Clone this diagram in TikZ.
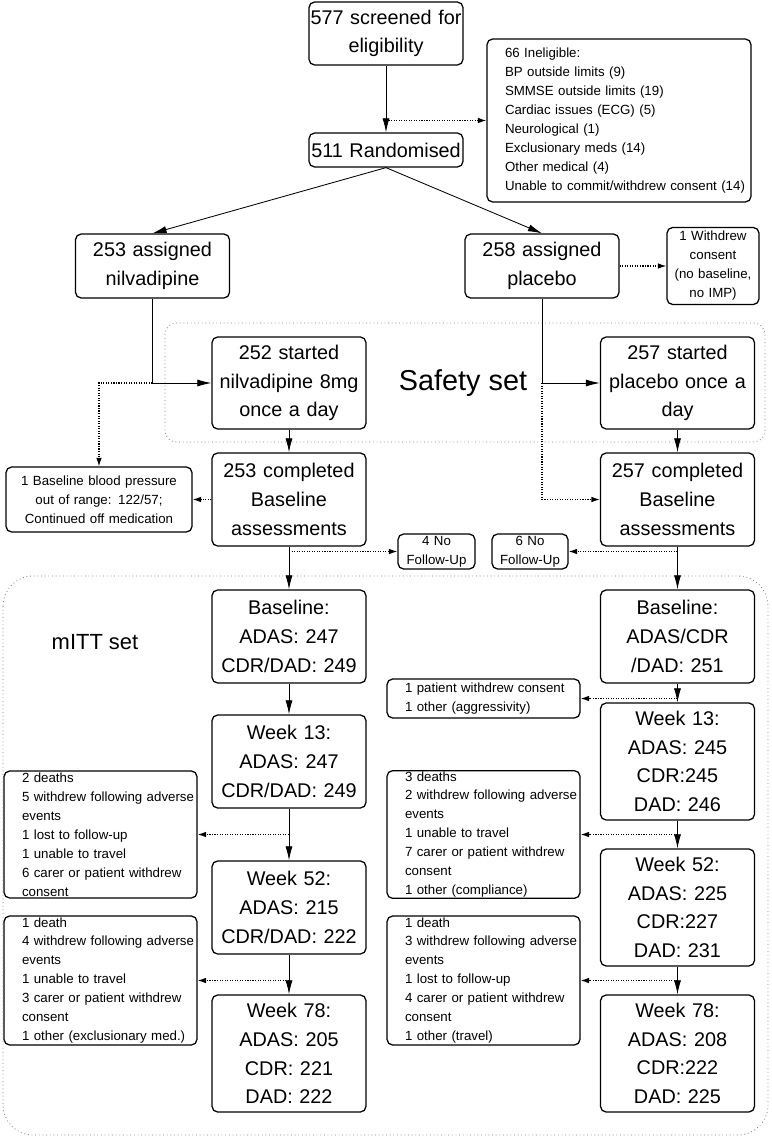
\documentclass[tikz,border=0pt]{standalone}
\usepackage{fontspec}
\setmainfont{Liberation Sans}
\usetikzlibrary{shapes,arrows.meta,positioning,calc}

\begin{document}
\begin{tikzpicture}[node distance=3cm, >={Latex[length=10pt,width=5pt]}]
    \tikzstyle{stage} = [rectangle, draw, line width=0.9pt, rounded corners=4pt, text width=3.85cm, inner xsep=0pt, align=center, font=\fontsize{14.1pt}{20.4pt}\selectfont]
    \tikzstyle{note} = [rectangle, draw, line width=0.9pt, rounded corners=4pt, inner xsep=0pt, inner ysep=0.5pt, align=center, font=\fontsize{9.45pt}{13.5pt}\selectfont]
    \tikzstyle{list} = [note, align=left, execute at begin node={\leftskip=0.45cm}]
    \tikzstyle{flow} = [line width=0.6pt, ->]
    \tikzstyle{dropout} = [densely dotted, line width=0.8pt, -{Latex[length=6pt,width=4pt]}]
    \tikzstyle{setbox} = [dotted, gray, line width=0.6pt]
    \useasboundingbox (0,0) rectangle (19.275,-28.4);

    % Screening
    \node[stage, minimum height=1.575cm] (screen) at (9.65,-0.8375) {577 screened for\\eligibility};
    \node[stage, below of=screen, yshift=0.0875cm, minimum height=0.85cm] (rand) {511 Randomised};
    \node[list, right of=screen, xshift=2.825cm, yshift=-2.175cm, text width=6.6cm, minimum height=4.075cm] (inelig) {66 Ineligible:\\BP outside limits (9)\\SMMSE outside limits (19)\\Cardiac issues (ECG) (5)\\Neurological (1)\\Exclusionary meds (14)\\Other medical (4)\\Unable to commit/withdrew consent (14)};

    % Allocation
    \node[stage, below of=rand, xshift=-5.8375cm, yshift=0.1cm, minimum height=1.6cm] (nil) {253 assigned\\nilvadipine};
    \node[stage, below of=rand, xshift=3.9cm, yshift=0.1cm, minimum height=1.6cm] (plac) {258 assigned\\placebo};
    \node[note, right of=plac, xshift=1.275cm, text width=2.3cm, minimum height=1.925cm] (wdraw) {1 Withdrew\\consent\\(no baseline,\\no IMP)};

    % Safety set
    \node[stage, below of=nil, xshift=3.4125cm, yshift=0.075cm, minimum height=2.3cm] (startnil) {252 started\\nilvadipine 8mg\\once a day};
    \node[stage, below of=plac, xshift=3.3875cm, yshift=0.075cm, minimum height=2.3cm] (startplac) {257 started\\placebo once a\\day};
    \node[font=\fontsize{20.5pt}{24pt}\selectfont, right of=startnil, xshift=1.35cm] (safety) {Safety set};

    % Baseline
    \node[stage, below of=startnil, yshift=0.0875cm, minimum height=2.325cm] (basenil) {253 completed\\Baseline\\assessments};
    \node[stage, below of=startplac, yshift=0.0875cm, minimum height=2.325cm] (baseplac) {257 completed\\Baseline\\assessments};
    \node[note, left of=basenil, xshift=-1.75cm, text width=4.65cm, minimum height=1.625cm] (bp) {1 Baseline blood pressure\\out of range: 122/57;\\Continued off medication};
    \node[note, below of=basenil, xshift=3.6875cm, yshift=1.7cm, text width=1.925cm, minimum height=0.875cm] (nofunil) {4 No\\Follow-Up};
    \node[note, below of=baseplac, xshift=-3.6875cm, yshift=1.7cm, text width=1.9cm, minimum height=0.875cm] (nofuplac) {6 No\\Follow-Up};

    % mITT set
    \node[stage, below of=basenil, yshift=-0.425cm, minimum height=2.325cm] (blnil) {Baseline:\\ADAS: 247\\CDR/DAD: 249};
    \node[stage, below of=baseplac, yshift=-0.425cm, minimum height=2.325cm] (blplac) {Baseline:\\ADAS/CDR\\/DAD: 251};
    \node[font=\fontsize{15.6pt}{18pt}\selectfont, left of=blnil, xshift=-1.85cm, yshift=-0.1375cm] (mitt) {mITT set};
    \node[stage, below of=blnil, yshift=-0.125cm, minimum height=2.325cm] (wknil13) {Week 13:\\ADAS: 247\\CDR/DAD: 249};
    \node[stage, below of=blplac, yshift=-0.125cm, minimum height=2.925cm] (wkplac13) {Week 13:\\ADAS: 245\\CDR:245\\DAD: 246};
    \node[stage, below of=wknil13, yshift=-0.65cm, minimum height=2.325cm] (wknil52) {Week 52:\\ADAS: 215\\CDR/DAD: 222};
    \node[stage, below of=wkplac13, yshift=-0.65cm, minimum height=2.925cm] (wkplac52) {Week 52:\\ADAS: 225\\CDR:227\\DAD: 231};
    \node[stage, below of=wknil52, yshift=-0.65cm, minimum height=2.925cm] (wknil78) {Week 78:\\ADAS: 205\\CDR: 221\\DAD: 222};
    \node[stage, below of=wkplac52, yshift=-0.65cm, minimum height=2.925cm] (wkplac78) {Week 78:\\ADAS: 208\\CDR:222\\DAD: 225};

    % Losses
    \node[list, left of=blplac, xshift=-1.85cm, yshift=-1.55cm, text width=4.825cm, minimum height=0.975cm] (wdplac) {1 patient withdrew consent\\1 other (aggressivity)};
    \node[list, left of=wknil13, xshift=-1.7125cm, yshift=-1.825cm, text width=4.825cm, minimum height=3.175cm] (lossnil13) {2 deaths\\5 withdrew following adverse\\events\\1 lost to follow-up\\1 unable to travel\\6 carer or patient withdrew\\consent};
    \node[list, left of=wkplac13, xshift=-1.85cm, yshift=-1.825cm, text width=4.825cm, minimum height=3.175cm] (lossplac13) {3 deaths\\2 withdrew following adverse\\events\\1 unable to travel\\7 carer or patient withdrew\\consent\\1 other (compliance)};
    \node[list, left of=wknil52, xshift=-1.7125cm, yshift=-1.825cm, text width=4.825cm, minimum height=3.225cm] (lossnil52) {1 death\\4 withdrew following adverse\\events\\1 unable to travel\\3 carer or patient withdrew\\consent\\1 other (exclusionary med.)};
    \node[list, left of=wkplac52, xshift=-1.85cm, yshift=-1.825cm, text width=4.825cm, minimum height=3.225cm] (lossplac52) {1 death\\3 withdrew following adverse\\events\\1 lost to follow-up\\4 carer or patient withdrew\\consent\\1 other (travel)};

    % Sets
    \draw[setbox, rounded corners=8pt] (4.125,-8.075) rectangle (19.125,-11.05);
    \draw[setbox, rounded corners=0.75cm] (0.075,-14.4) rectangle (19.2,-28.375);

    % Joints
    \coordinate (screenout) at (screen.south |- inelig.west);
    \coordinate (niljoin) at (nil.south |- startnil.west);
    \coordinate (placjoin) at (plac.south |- startplac.west);
    \coordinate (nilnofu) at (basenil.south |- nofunil.west);
    \coordinate (placnofu) at (baseplac.south |- nofuplac.east);
    \coordinate (placwd) at (blplac.south |- wdplac.east);
    \coordinate (nilout13) at (wknil13.south |- lossnil13.east);
    \coordinate (placout13) at (wkplac13.south |- lossplac13.east);
    \coordinate (nilout52) at (wknil52.south |- lossnil52.east);
    \coordinate (placout52) at (wkplac52.south |- lossplac52.east);

    % Flow
    \draw[flow] (screen) -- (rand);
    \draw[flow] (rand.south) -- (nil.north);
    \draw[flow] (rand.south) -- (plac.north);
    \draw[flow] (nil) |- (startnil);
    \draw[flow] (plac) |- (startplac);
    \draw[flow] (startnil) -- (basenil);
    \draw[flow] (startplac) -- (baseplac);
    \draw[flow] (basenil) -- (blnil);
    \draw[flow] (baseplac) -- (blplac);
    \draw[flow] (blnil) -- (wknil13);
    \draw[flow] (blplac) -- (wkplac13);
    \draw[flow] (wknil13) -- (wknil52);
    \draw[flow] (wkplac13) -- (wkplac52);
    \draw[flow] (wknil52) -- (wknil78);
    \draw[flow] (wkplac52) -- (wkplac78);

    % Drop-outs
    \draw[dropout] (screenout) -- (inelig);
    \draw[dropout] (plac) -- (wdraw);
    \draw[dropout] (niljoin) -| (bp);
    \draw[dropout] (basenil) -- (bp);
    \draw[dropout] (placjoin) |- (baseplac);
    \draw[dropout] (nilnofu) -- (nofunil);
    \draw[dropout] (placnofu) -- (nofuplac);
    \draw[dropout] (placwd) -- (wdplac);
    \draw[dropout] (nilout13) -- (lossnil13);
    \draw[dropout] (placout13) -- (lossplac13);
    \draw[dropout] (nilout52) -- (lossnil52);
    \draw[dropout] (placout52) -- (lossplac52);
\end{tikzpicture}
\end{document}
